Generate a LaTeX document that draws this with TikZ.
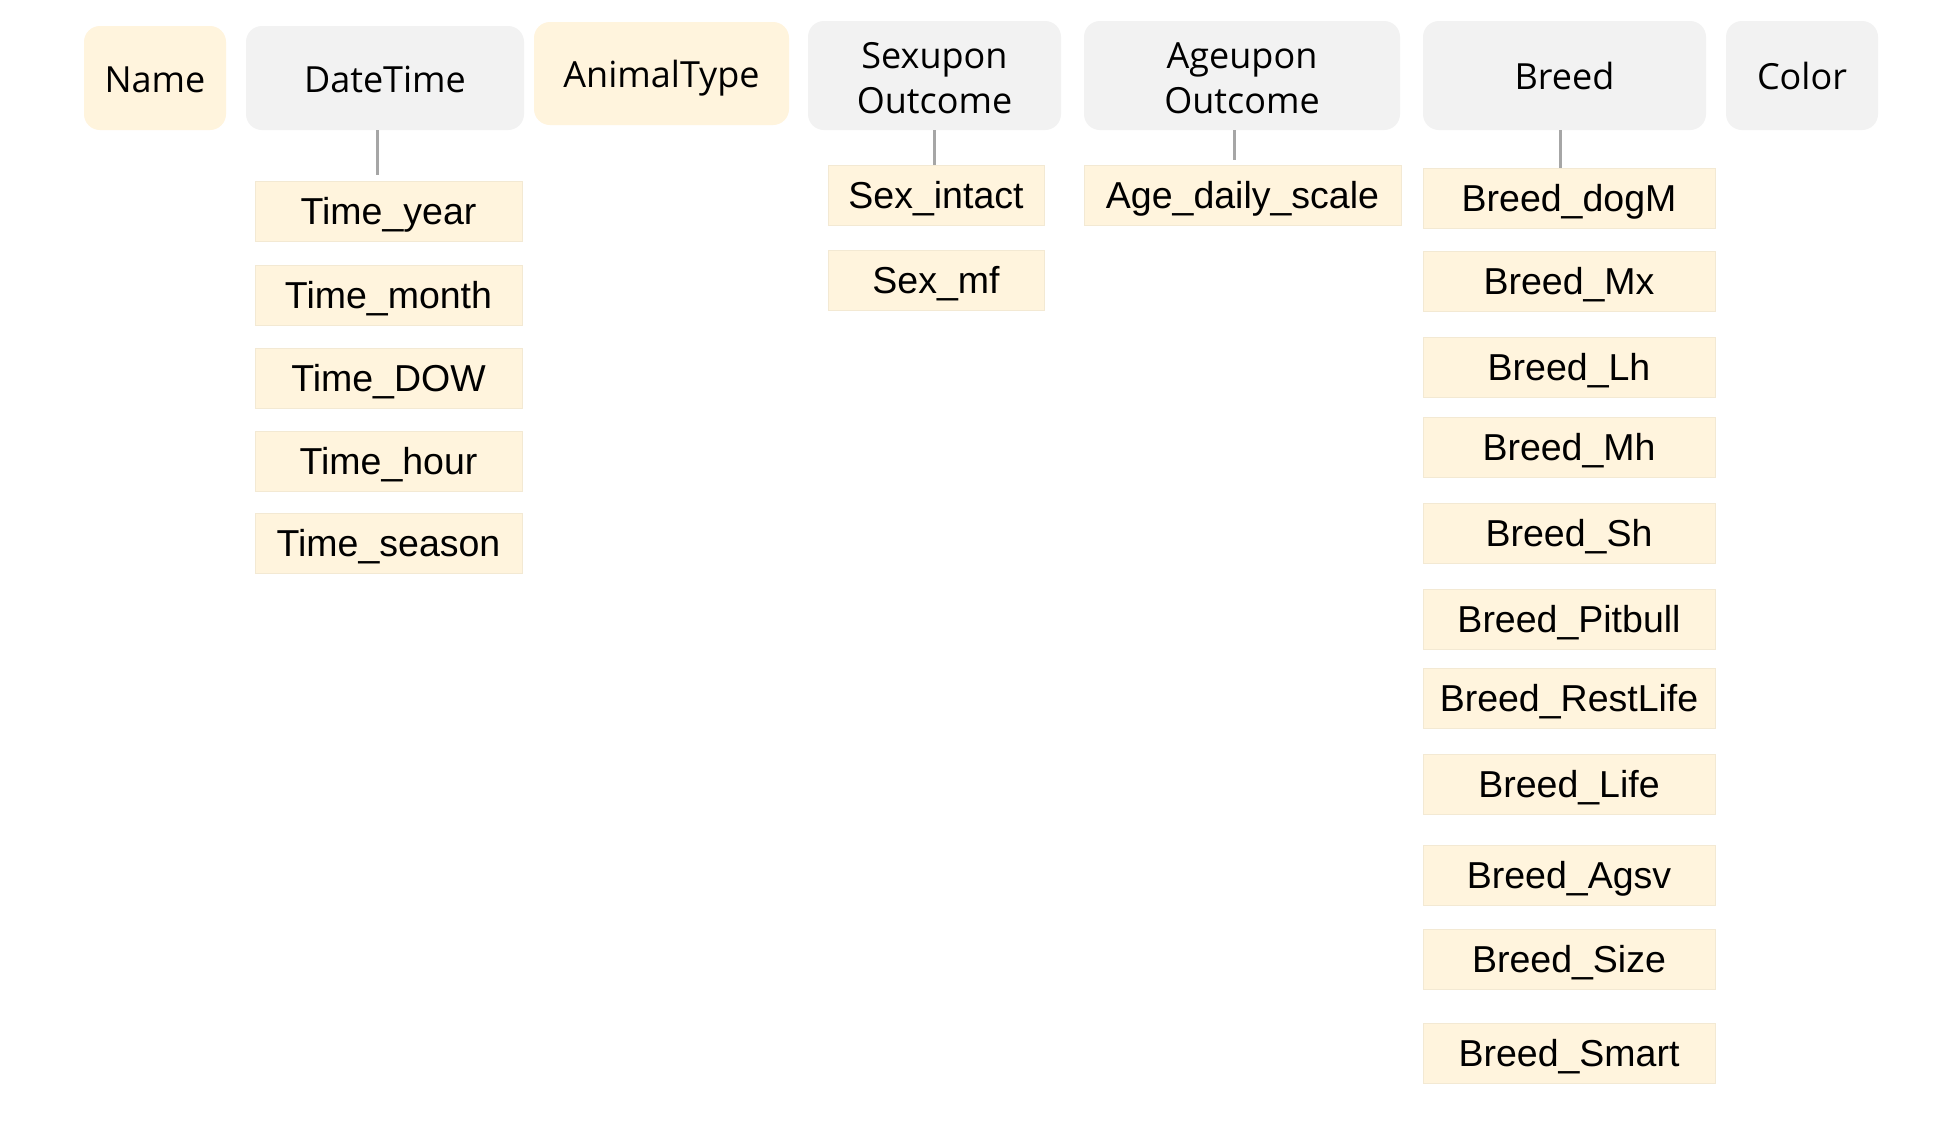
\documentclass[tikz,border=0pt]{standalone}
\usepackage{fontspec}
\setmainfont{Liberation Sans}
\newfontfamily\hdrfont{Open Sans}
\usetikzlibrary{calc}
\definecolor{hdrgray}{HTML}{F2F2F2}
\definecolor{beige}{HTML}{FFF4DD}
\definecolor{beigeline}{HTML}{F3E9D3}
\definecolor{linkgray}{HTML}{A6A6A6}
\tikzset{
  hdr/.style={fill=hdrgray, draw=none, rounded corners=16pt, inner sep=0pt,
    align=center, font=\hdrfont\fontsize{36}{45}\selectfont,
    text height=31pt, text depth=2.4pt},
  hdrb/.style={hdr, fill=beige},
  hdrtwo/.style={hdr, text height=75pt, text depth=0pt},
  leaf/.style={fill=beige, draw=beigeline, line width=0.9pt, inner sep=0pt,
    minimum height=60pt, font=\fontsize{37.5}{44}\selectfont,
    text height=30pt, text depth=3.2pt},
  tleaf/.style={leaf, minimum width=267pt},
  sleaf/.style={leaf, minimum width=216pt},
  bleaf/.style={leaf, minimum width=292pt},
  conn/.style={draw=linkgray, line width=3pt}
}
\begin{document}
\begin{tikzpicture}[x=1pt, y=-1pt]
\useasboundingbox[fill=white] (0,0) rectangle (1958,1125);

% column headers
\node[hdrb, minimum width=142pt, minimum height=104pt] (name) at (155,78) {Name};
\node[hdr, minimum width=278pt, minimum height=104pt] (dt) at (385,78) {DateTime};
\node[hdrb, minimum width=255pt, minimum height=103pt] (animal) at (661.5,73.5) {AnimalType};
\node[hdrtwo, minimum width=253pt, minimum height=109pt] (sex) at (934.5,75.5) {Sexupon\\Outcome};
\node[hdrtwo, minimum width=316pt, minimum height=109pt] (age) at (1242,75.5) {Ageupon\\Outcome};
\node[hdr, minimum width=283pt, minimum height=109pt] (breed) at (1564.5,75.5) {Breed};
\node[hdr, minimum width=152pt, minimum height=109pt] (color) at (1802,75.5) {Color};

% DateTime features
\node[tleaf] (tyear) at (388.5,211) {Time\_year};
\node[tleaf] (tmonth) at (388.5,295.5) {Time\_month};
\node[tleaf] (tdow) at (388.5,378) {Time\_DOW};
\node[tleaf] (thour) at (388.5,461) {Time\_hour};
\node[tleaf] (tseason) at (388.5,543.5) {Time\_season};

% Sex features
\node[sleaf] (sintact) at (936,195.5) {Sex\_intact};
\node[sleaf] (smf) at (936,280) {Sex\_mf};

% Age feature
\node[leaf, minimum width=317pt] (adaily) at (1242.5,195.5) {Age\_daily\_scale};

% Breed features
\node[bleaf] (bdogm) at (1569,198.5) {Breed\_dogM};
\node[bleaf] (bmx) at (1569,281) {Breed\_Mx};
\node[bleaf] (blh) at (1569,367.5) {Breed\_Lh};
\node[bleaf] (bmh) at (1569,447.5) {Breed\_Mh};
\node[bleaf] (bsh) at (1569,533.5) {Breed\_Sh};
\node[bleaf] (bpit) at (1569,619) {Breed\_Pitbull};
\node[bleaf] (brest) at (1569,698.5) {Breed\_RestLife};
\node[bleaf] (blife) at (1569,784.5) {Breed\_Life};
\node[bleaf] (bagsv) at (1569,875) {Breed\_Agsv};
\node[bleaf] (bsize) at (1569,959) {Breed\_Size};
\node[bleaf] (bsmart) at (1569,1053) {Breed\_Smart};

% links from headers to their derived features
\draw[conn, shorten >=6pt] ([xshift=-8pt]dt.south) -- ([xshift=-8pt]dt.south |- tyear.north);
\draw[conn] (sex.south) -- (sex.south |- sintact.north);
\draw[conn, shorten >=5pt] ([xshift=-8pt]age.south) -- ([xshift=-8pt]age.south |- adaily.north);
\draw[conn] ([xshift=-4.5pt]breed.south) -- ([xshift=-4.5pt]breed.south |- bdogm.north);
\end{tikzpicture}
\end{document}
